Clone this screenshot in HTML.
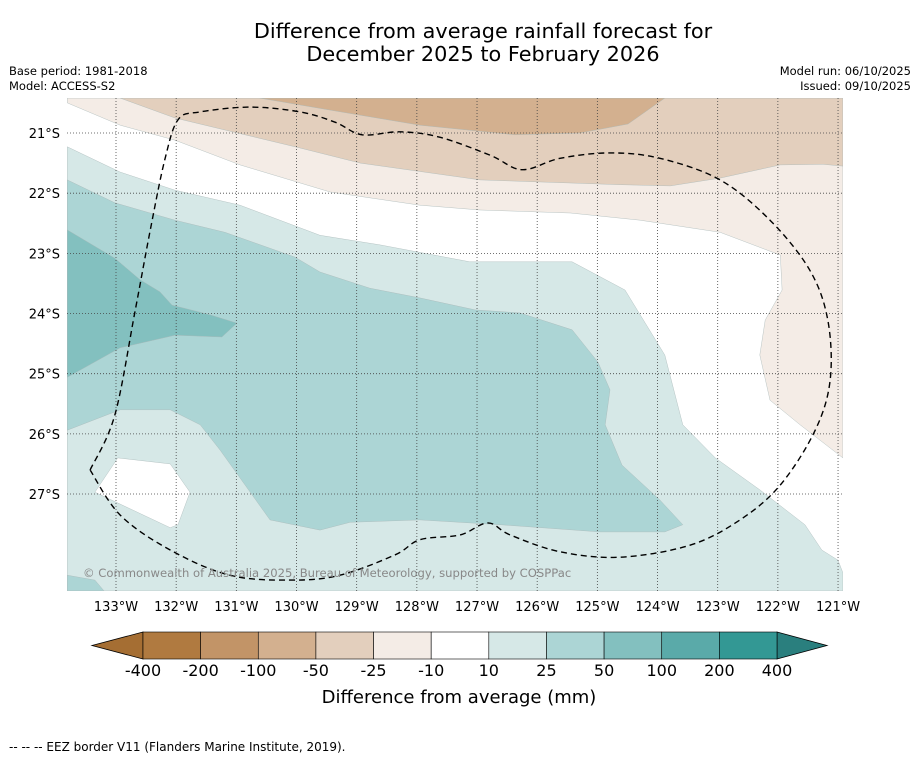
<!DOCTYPE html>
<html><head><meta charset="utf-8"><style>
body{margin:0;background:#fff;width:919px;height:758px;overflow:hidden;font-family:"Liberation Sans","DejaVu Sans",sans-serif;}
svg text{font-family:"DejaVu Sans","Liberation Sans",sans-serif;}
</style></head><body>
<svg id="chart" width="919" height="758" viewBox="0 0 919 758" xmlns="http://www.w3.org/2000/svg">
<rect width="919" height="758" fill="#fff"/>
<text x="483" y="38" font-size="20.8" text-anchor="middle" fill="#000">Difference from average rainfall forecast for</text>
<text x="483" y="61" font-size="20.8" text-anchor="middle" fill="#000">December 2025 to February 2026</text>
<text x="9" y="75" font-size="11.5">Base period: 1981-2018</text>
<text x="9" y="90" font-size="11.5">Model: ACCESS-S2</text>
<text x="911" y="75" font-size="11.5" text-anchor="end">Model run: 06/10/2025</text>
<text x="911" y="90" font-size="11.5" text-anchor="end">Issued: 09/10/2025</text>
<defs><clipPath id="mapclip"><rect x="67" y="98" width="776" height="493"/></clipPath></defs>
<g id="map" clip-path="url(#mapclip)"></g>
<g id="axes"></g>
<g id="cbar"></g>
<text x="459" y="703" font-size="18" text-anchor="middle">Difference from average (mm)</text>
<text x="9" y="751" font-size="12">--  --  -- EEZ border V11 (Flanders Marine Institute, 2019).</text>
</svg>
<script>
const lonTicks=[-133,-132,-131,-130,-129,-128,-127,-126,-125,-124,-123,-122,-121];
const latTicks=[-21,-22,-23,-24,-25,-26,-27];
const cbarLabels=["-400","-200","-100","-50","-25","-10","10","25","50","100","200","400"];
const cbarColors=["#b07a40","#c29467","#d3b08f","#e3cfbd","#f4ece6","#ffffff","#d6e8e7","#acd5d5","#83c0bf","#5aaaa9","#339894"];
const tan1=[[-132.93,-20.42],[-132.02,-20.75],[-129.94,-21.25],[-128.94,-21.50],[-126.95,-21.78],[-124.62,-21.86],[-123.79,-21.88],[-122.96,-21.75],[-121.96,-21.53],[-121.25,-21.52],[-120.92,-21.55],[-120.92,-20.42]];
const tan2=[[-130.61,-20.42],[-129.44,-20.62],[-127.95,-20.87],[-126.37,-21.03],[-125.29,-21.0],[-124.49,-20.85],[-123.88,-20.42]];
const beige=[[-133.81,-20.42],[-133.81,-20.50],[-132.93,-20.87],[-132.02,-21.12],[-130.94,-21.53],[-129.44,-21.98],[-127.95,-22.20],[-126.95,-22.28],[-125.45,-22.33],[-124.29,-22.45],[-122.96,-22.65],[-121.96,-23.03],[-121.93,-23.61],[-122.21,-24.11],[-122.30,-24.69],[-122.13,-25.44],[-121.63,-25.85],[-120.92,-26.40],[-120.92,-20.42]];
const teal1=[[-133.81,-21.23],[-132.93,-21.65],[-132.02,-21.95],[-130.94,-22.20],[-129.61,-22.70],[-128.61,-22.86],[-127.12,-23.14],[-125.42,-23.14],[-124.54,-23.61],[-123.88,-24.69],[-123.58,-25.85],[-123.04,-26.40],[-122.30,-26.93],[-121.55,-27.51],[-121.27,-27.93],[-121.0,-28.10],[-120.92,-28.31],[-120.92,-28.61],[-133.81,-28.61]];
const hole=[[-132.97,-26.40],[-132.10,-26.50],[-131.77,-26.97],[-131.97,-27.51],[-132.10,-27.56],[-133.35,-26.97]];
const teal2=[[-133.81,-21.78],[-133.02,-22.16],[-132.02,-22.45],[-131.19,-22.65],[-130.03,-23.06],[-129.61,-23.31],[-128.78,-23.58],[-127.95,-23.74],[-127.03,-23.94],[-126.29,-23.99],[-125.42,-24.27],[-124.99,-24.81],[-124.79,-25.27],[-124.87,-25.85],[-124.59,-26.52],[-123.96,-27.10],[-123.58,-27.51],[-123.88,-27.63],[-124.96,-27.63],[-126.62,-27.51],[-127.95,-27.43],[-129.11,-27.47],[-129.61,-27.60],[-130.44,-27.43],[-131.27,-26.27],[-131.60,-25.85],[-132.10,-25.60],[-132.93,-25.60],[-133.81,-25.94]];
const teal2b=[[-133.81,-28.35],[-133.35,-28.43],[-133.2,-28.61],[-133.81,-28.61]];
const teal3=[[-133.81,-22.61],[-133.02,-23.08],[-132.6,-23.44],[-132.27,-23.64],[-132.07,-23.86],[-131.44,-24.02],[-130.99,-24.16],[-131.24,-24.39],[-132.02,-24.36],[-132.93,-24.57],[-133.81,-25.06]];
const eez=[[-133.43,-26.60],[-133.02,-25.69],[-132.68,-23.94],[-132.43,-22.61],[-132.19,-21.45],[-131.97,-20.78],[-131.60,-20.65],[-130.77,-20.57],[-129.94,-20.65],[-129.36,-20.82],[-128.91,-21.03],[-128.28,-20.98],[-127.62,-21.07],[-126.78,-21.37],[-126.25,-21.61],[-125.62,-21.42],[-124.79,-21.33],[-123.96,-21.42],[-122.96,-21.78],[-122.13,-22.45],[-121.47,-23.28],[-121.17,-24.11],[-121.13,-25.10],[-121.38,-25.94],[-121.96,-26.85],[-122.63,-27.43],[-123.46,-27.85],[-124.62,-28.05],[-125.62,-27.96],[-126.45,-27.68],[-126.82,-27.48],[-127.28,-27.68],[-127.95,-27.76],[-128.36,-28.01],[-129.28,-28.35],[-130.11,-28.43],[-131.11,-28.35],[-132.10,-27.93],[-132.93,-27.35],[-133.43,-26.60]];

const NS="http://www.w3.org/2000/svg";
const X0=116,Y0=133,S=60.17;
function xs(lon){return X0+(lon+133)*S;}
function ys(lat){return Y0+(-21-lat)*S;}
function pts(a){return a.map(p=>xs(p[0]).toFixed(1)+","+ys(p[1]).toFixed(1)).join(" ");}
function smooth(a){
 const P=a.map(p=>[xs(p[0]),ys(p[1])]);
 let d="M"+P[0][0].toFixed(1)+","+P[0][1].toFixed(1);
 for(let i=0;i<P.length-1;i++){
  const p0=P[Math.max(i-1,0)],p1=P[i],p2=P[i+1],p3=P[Math.min(i+2,P.length-1)];
  const c1=[p1[0]+(p2[0]-p0[0])/6,p1[1]+(p2[1]-p0[1])/6];
  const c2=[p2[0]-(p3[0]-p1[0])/6,p2[1]-(p3[1]-p1[1])/6];
  d+=" C"+c1[0].toFixed(1)+","+c1[1].toFixed(1)+" "+c2[0].toFixed(1)+","+c2[1].toFixed(1)+" "+p2[0].toFixed(1)+","+p2[1].toFixed(1);
 }
 return d;
}
function mk(tag,attrs,parent){const e=document.createElementNS(NS,tag);for(const k in attrs)e.setAttribute(k,attrs[k]);parent.appendChild(e);return e;}
const map=document.getElementById("map");
mk("rect",{x:67,y:98,width:776,height:493,fill:"#ffffff"},map);
const layers=[[beige,"#f4ece6","region-minus25-minus10"],[tan1,"#e3cfbd","region-minus50-minus25"],[tan2,"#d3b08f","region-minus100-minus50"],[teal1,"#d6e8e7","region-10-25"],[hole,"#ffffff","region-minus10-10-hole"],[teal2,"#acd5d5","region-25-50"],[teal2b,"#acd5d5","region-25-50-corner"],[teal3,"#83c0bf","region-50-100"]];
layers.forEach(l=>{
 const p=mk("polygon",{points:pts(l[0]),fill:l[1],stroke:"#a8b8b8","stroke-width":0.4},map);
 
 
});
lonTicks.forEach(v=>{
 const g=mk("line",{x1:xs(v),x2:xs(v),y1:98,y2:591,stroke:"#444","stroke-width":0.8,"stroke-dasharray":"1,2"},map);
 
 
});
latTicks.forEach(v=>{
 const g=mk("line",{x1:67,x2:843,y1:ys(v),y2:ys(v),stroke:"#444","stroke-width":0.8,"stroke-dasharray":"1,2"},map);
 
 
});
const ez=mk("path",{d:smooth(eez),fill:"none",stroke:"#000","stroke-width":1.4,"stroke-dasharray":"6,4"},map);


const cp=mk("text",{x:83,y:577,"font-size":11.6,fill:"#888"},map);
cp.textContent="© Commonwealth of Australia 2025, Bureau of Meteorology, supported by COSPPac";


const axes=document.getElementById("axes");
lonTicks.forEach(v=>{
 const t=mk("text",{x:xs(v),y:611,"font-size":13,"text-anchor":"middle"},axes);
 t.textContent=Math.abs(v)+"°W";
 
 
});
latTicks.forEach(v=>{
 const t=mk("text",{x:60,y:ys(v)+5,"font-size":13,"text-anchor":"end"},axes);
 t.textContent=Math.abs(v)+"°S";
 
 
});
const cb=document.getElementById("cbar");
const cx0=143,cx1=777,cy=632,ch=27,n=cbarColors.length,w=(cx1-cx0)/n;
const lt=mk("polygon",{points:`${cx0},${cy} ${cx0},${cy+ch} 92,${cy+ch/2}`,fill:"#a56e33",stroke:"#000","stroke-width":0.8},cb);


const rt=mk("polygon",{points:`${cx1},${cy} ${cx1},${cy+ch} 827,${cy+ch/2}`,fill:"#2a7f7e",stroke:"#000","stroke-width":0.8},cb);


cbarColors.forEach((c,i)=>{
 const r=mk("rect",{x:cx0+i*w,y:cy,width:w,height:ch,fill:c,stroke:"#000","stroke-width":0.6},cb);
 
 
});
cbarLabels.forEach((s,i)=>{
 const t=mk("text",{x:cx0+i*w,y:676,"font-size":16,"text-anchor":"middle"},cb);
 t.textContent=s;
 
 
});
</script>
</body></html>
